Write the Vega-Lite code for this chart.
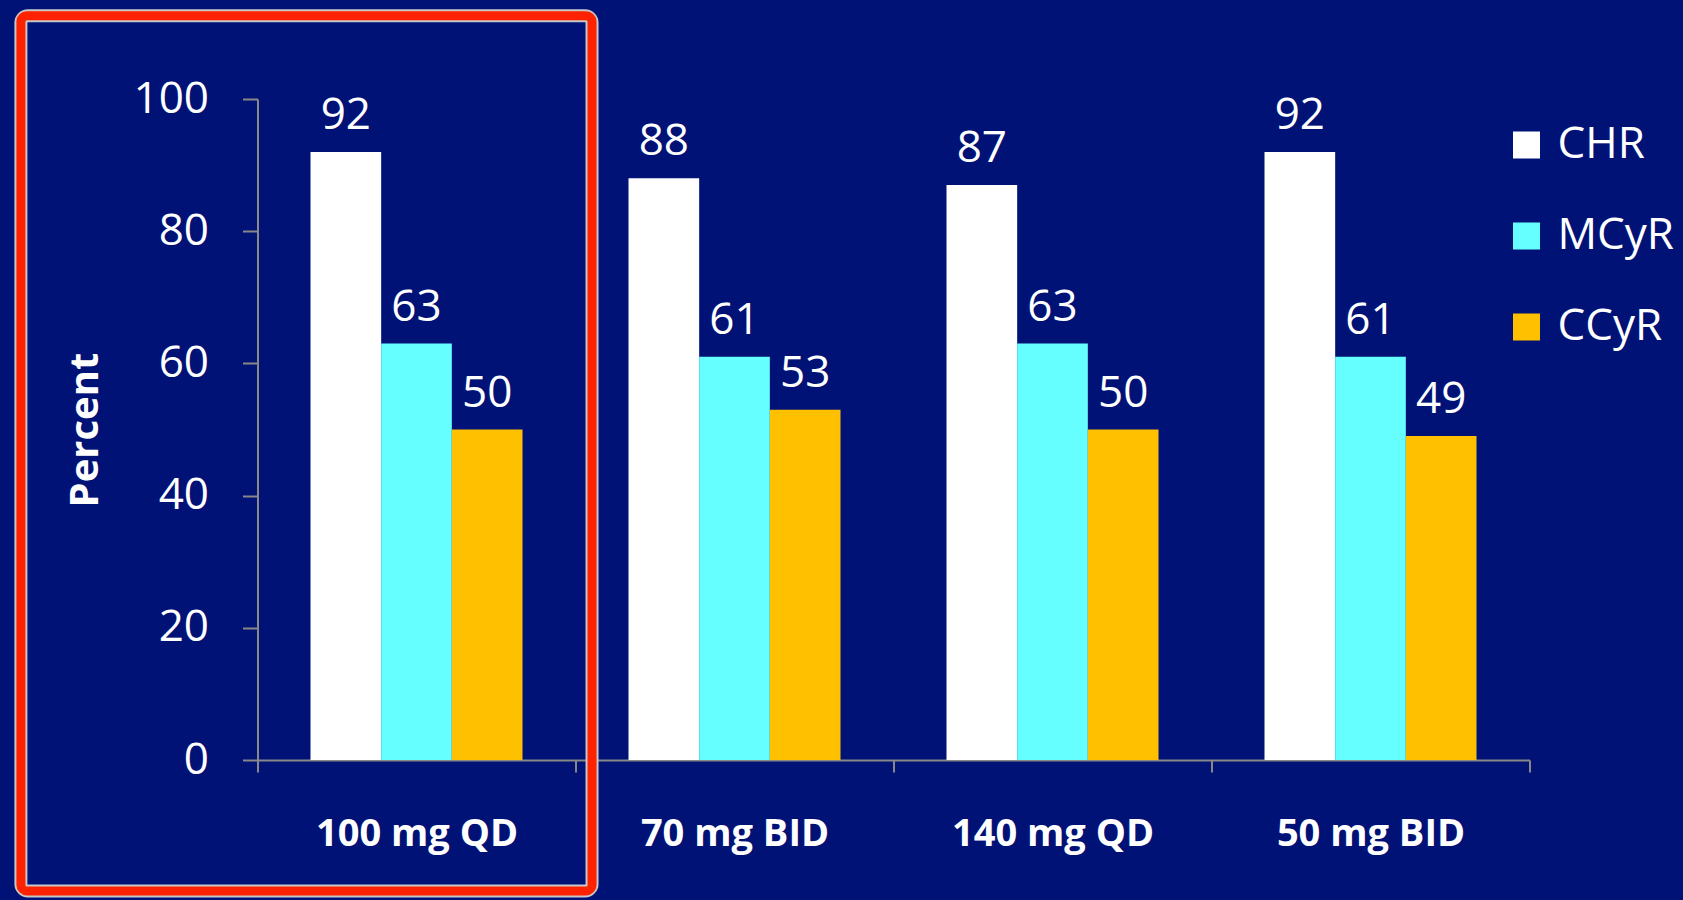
{
  "$schema": "https://vega.github.io/schema/vega-lite/v6.json",
  "width": 1272,
  "height": 661,
  "autosize": {"type": "none"},
  "padding": {"left": 257.5, "top": 99, "right": 153.5, "bottom": 140},
  "background": "#001276",
  "config": {"view": {"stroke": null}, "font": "Open Sans"},
  "datasets": {
    "bars": [
      {"dose": "100 mg QD", "measure": "CHR", "value": 92},
      {"dose": "100 mg QD", "measure": "MCyR", "value": 63},
      {"dose": "100 mg QD", "measure": "CCyR", "value": 50},
      {"dose": "70 mg BID", "measure": "CHR", "value": 88},
      {"dose": "70 mg BID", "measure": "MCyR", "value": 61},
      {"dose": "70 mg BID", "measure": "CCyR", "value": 53},
      {"dose": "140 mg QD", "measure": "CHR", "value": 87},
      {"dose": "140 mg QD", "measure": "MCyR", "value": 63},
      {"dose": "140 mg QD", "measure": "CCyR", "value": 50},
      {"dose": "50 mg BID", "measure": "CHR", "value": 92},
      {"dose": "50 mg BID", "measure": "MCyR", "value": 61},
      {"dose": "50 mg BID", "measure": "CCyR", "value": 49}
    ],
    "box": [{"x0": -0.744, "x1": 1.052, "y0": -19.8, "y1": 112.6}]
  },
  "layer": [
    {
      "data": {"name": "box"},
      "encoding": {
        "x": {"field": "x0", "type": "quantitative", "scale": {"domain": [0, 4], "nice": false, "zero": false}, "axis": null},
        "x2": {"field": "x1"},
        "y": {"field": "y0", "type": "quantitative", "scale": {"domain": [0, 100], "nice": false, "zero": false}, "axis": null},
        "y2": {"field": "y1"}
      },
      "layer": [
        {"mark": {"type": "rect", "fill": null, "stroke": "#C8C8C8", "strokeWidth": 13, "cornerRadius": 7, "clip": false}},
        {"mark": {"type": "rect", "fill": null, "stroke": "#FF2200", "strokeWidth": 9, "cornerRadius": 6, "clip": false}}
      ]
    },
    {
      "data": {"name": "bars"},
      "encoding": {
        "x": {
          "field": "dose", "type": "nominal",
          "sort": ["100 mg QD", "70 mg BID", "140 mg QD", "50 mg BID"],
          "scale": {"paddingInner": 0, "paddingOuter": 0},
          "axis": {
            "title": null, "labelAngle": 0, "tickBand": "extent", "tickSize": 12,
            "domainColor": "#888888", "tickColor": "#888888", "domainWidth": 2, "tickWidth": 2,
            "labelColor": "white", "labelFont": "Open Sans", "labelFontWeight": "bold",
            "labelFontSize": 38, "labelPadding": 43, "labelLimit": 0
          }
        },
        "xOffset": {
          "field": "measure", "type": "nominal",
          "sort": ["CHR", "MCyR", "CCyR"],
          "scale": {"paddingInner": 0, "paddingOuter": 0.75}
        },
        "y": {
          "field": "value", "type": "quantitative",
          "scale": {"domain": [0, 100], "nice": false},
          "axis": {
            "title": "Percent", "values": [0, 20, 40, 60, 80, 100], "grid": false,
            "tickSize": 15, "domainColor": "#888888", "tickColor": "#888888", "domainWidth": 2, "tickWidth": 2,
            "labelColor": "white", "labelFont": "Open Sans", "labelFontSize": 44, "labelPadding": 34,
            "titleColor": "white", "titleFont": "Open Sans", "titleFontWeight": "bold", "titleFontSize": 40,
            "titlePadding": 28
          }
        }
      },
      "layer": [
        {
          "mark": {"type": "bar"},
          "encoding": {
            "color": {
              "field": "measure", "type": "nominal",
              "scale": {"domain": ["CHR", "MCyR", "CCyR"], "range": ["#FFFFFF", "#66FFFF", "#FFC000"]},
              "legend": {
                "orient": "none", "legendX": 1247, "legendY": 24, "title": null,
                "symbolType": "square", "symbolSize": 729, "symbolStrokeWidth": 0,
                "labelFontSize": 44, "labelColor": "white", "labelFont": "Open Sans",
                "labelOffset": 9, "rowPadding": 47, "padding": 0, "labelLimit": 0
              }
            }
          }
        },
        {
          "mark": {"type": "text", "dy": -23, "baseline": "alphabetic", "fontSize": 44, "color": "white", "font": "Open Sans"},
          "encoding": {"text": {"field": "value", "type": "quantitative"}}
        }
      ]
    }
  ],
  "resolve": {"scale": {"x": "independent", "y": "independent"}}
}
